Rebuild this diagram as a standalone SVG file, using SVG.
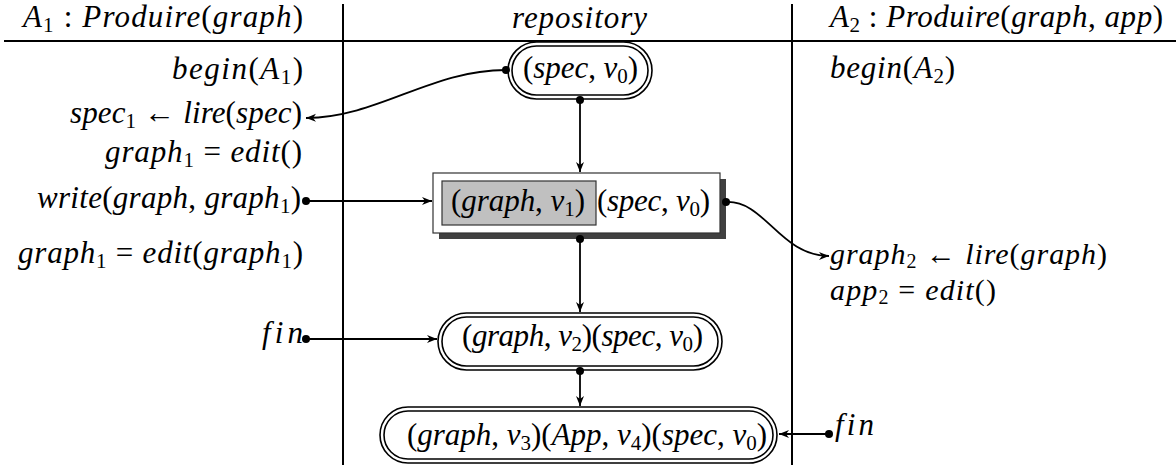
<svg xmlns="http://www.w3.org/2000/svg" width="1176" height="465" viewBox="0 0 1176 465">
<defs>
<style>
text{font-style:italic;font-size:31px;fill:#000}
.sm{font-size:30px}
.u{font-style:normal}
.s{font-size:21px;font-style:normal}
.sm .s{font-size:20px}
.ln{stroke:#000;stroke-width:2;fill:none}
.c{stroke:#000;stroke-width:1.8;fill:none}
.st{fill:#fff;stroke:#000;stroke-width:1.6}
</style>
<marker id="ah" markerUnits="userSpaceOnUse" markerWidth="12" markerHeight="10" refX="10" refY="4" orient="auto" viewBox="0 0 12 10">
<path d="M0,0 L10,4 L0,8 L3,4 Z" fill="#000"/>
</marker>
</defs>
<rect width="1176" height="465" fill="#fff"/>
<g id="grid">
<line class="ln" x1="4" y1="41" x2="1176" y2="41"/>
<line class="ln" x1="343" y1="4" x2="343" y2="465"/>
<line class="ln" x1="792" y1="4" x2="792" y2="465"/>
</g>
<g font-family="'Liberation Serif', 'Times New Roman', 'DejaVu Serif', serif">
<g id="headers">
<text x="23" y="27" textLength="280" lengthAdjust="spacing">A<tspan class="s" dy="5">1</tspan><tspan class="u" dy="-5"> : </tspan>Produire<tspan class="u">(</tspan>graph<tspan class="u">)</tspan></text>
<text x="512" y="28" textLength="135" lengthAdjust="spacing">repository</text>
<text x="830" y="27" textLength="333" lengthAdjust="spacing">A<tspan class="s" dy="5">2</tspan><tspan class="u" dy="-5"> : </tspan>Produire<tspan class="u">(</tspan>graph<tspan class="u">, </tspan>app<tspan class="u">)</tspan></text>
</g>
<g id="A1">
<text x="172" y="79" textLength="131" lengthAdjust="spacing">begin<tspan class="u">(</tspan>A<tspan class="s" dy="5">1</tspan><tspan class="u" dy="-5">)</tspan></text>
<text x="70" y="123" textLength="232" lengthAdjust="spacing">spec<tspan class="s" dy="5">1</tspan><tspan class="u" dy="-5"> ← </tspan>lire<tspan class="u">(</tspan>spec<tspan class="u">)</tspan></text>
<text x="105" y="162" textLength="197" lengthAdjust="spacing">graph<tspan class="s" dy="5">1</tspan><tspan class="u" dy="-5"> = </tspan>edit<tspan class="u">()</tspan></text>
<text x="37" y="208" textLength="264" lengthAdjust="spacing">write<tspan class="u">(</tspan>graph<tspan class="u">, </tspan>graph<tspan class="s" dy="5">1</tspan><tspan class="u" dy="-5">)</tspan></text>
<text x="18" y="263" textLength="285" lengthAdjust="spacing">graph<tspan class="s" dy="5">1</tspan><tspan class="u" dy="-5"> = </tspan>edit<tspan class="u">(</tspan>graph<tspan class="s" dy="5">1</tspan><tspan class="u" dy="-5">)</tspan></text>
<text x="262" y="343" textLength="41" lengthAdjust="spacing">fin</text>
</g>
<g id="A2">
<text x="830" y="78" textLength="125" lengthAdjust="spacing">begin<tspan class="u">(</tspan>A<tspan class="s" dy="5">2</tspan><tspan class="u" dy="-5">)</tspan></text>
<text class="sm" x="830" y="264" textLength="277" lengthAdjust="spacing">graph<tspan class="s" dy="4">2</tspan><tspan class="u" dy="-4"> ← </tspan>lire<tspan class="u">(</tspan>graph<tspan class="u">)</tspan></text>
<text class="sm" x="830" y="300" textLength="166" lengthAdjust="spacing">app<tspan class="s" dy="4">2</tspan><tspan class="u" dy="-4"> = </tspan>edit<tspan class="u">()</tspan></text>
<text x="835" y="435" textLength="39" lengthAdjust="spacing">fin</text>
</g>
<g id="node1">
<rect class="st" x="508" y="42" width="144" height="57" rx="28.5"/>
<rect class="st" x="512" y="46" width="136" height="49" rx="24.5"/>
<text x="523" y="78" textLength="115" lengthAdjust="spacing"><tspan class="u">(</tspan>spec<tspan class="u">, </tspan>v<tspan class="s" dy="5">0</tspan><tspan class="u" dy="-5">)</tspan></text>
</g>
<g id="node2">
<rect x="439" y="179" width="287" height="60" fill="#404040"/>
<rect x="433" y="173" width="287" height="60" fill="#fff" stroke="#333" stroke-width="1.2"/>
<rect x="442" y="181" width="154" height="44" fill="#c0c0c0" stroke="#333" stroke-width="1.2"/>
<text x="451" y="211" textLength="134" lengthAdjust="spacing"><tspan class="u">(</tspan>graph<tspan class="u">, </tspan>v<tspan class="s" dy="5">1</tspan><tspan class="u" dy="-5">)</tspan></text>
<text x="597" y="211" textLength="113" lengthAdjust="spacing"><tspan class="u">(</tspan>spec<tspan class="u">, </tspan>v<tspan class="s" dy="5">0</tspan><tspan class="u" dy="-5">)</tspan></text>
</g>
<g id="node3">
<rect class="st" x="438" y="313" width="284" height="57" rx="28.5"/>
<rect class="st" x="442" y="317" width="276" height="49" rx="24.5"/>
<text x="462" y="346" textLength="241" lengthAdjust="spacing"><tspan class="u">(</tspan>graph<tspan class="u">, </tspan>v<tspan class="s" dy="5">2</tspan><tspan class="u" dy="-5">)(</tspan>spec<tspan class="u">, </tspan>v<tspan class="s" dy="5">0</tspan><tspan class="u" dy="-5">)</tspan></text>
</g>
<g id="node4">
<rect class="st" x="380" y="407" width="397" height="56" rx="28"/>
<rect class="st" x="384" y="411" width="389" height="48" rx="24"/>
<text x="407" y="445" textLength="360" lengthAdjust="spacing"><tspan class="u">(</tspan>graph<tspan class="u">, </tspan>v<tspan class="s" dy="5">3</tspan><tspan class="u" dy="-5">)(</tspan>App<tspan class="u">, </tspan>v<tspan class="s" dy="5">4</tspan><tspan class="u" dy="-5">)(</tspan>spec<tspan class="u">, </tspan>v<tspan class="s" dy="5">0</tspan><tspan class="u" dy="-5">)</tspan></text>
</g>
</g>
<g id="connectors">
<path class="c" d="M506,70 C430,70 380,117 306,118" marker-end="url(#ah)"/>
<circle cx="506" cy="70" r="4"/>
<path class="c" d="M580,100 L580,172" marker-end="url(#ah)"/>
<circle cx="580" cy="100" r="4"/>
<path class="c" d="M306,201 L432,201" marker-end="url(#ah)"/>
<circle cx="306" cy="201" r="4"/>
<path class="c" d="M726,202 C765,200 780,256 829,256" marker-end="url(#ah)"/>
<circle cx="726" cy="202" r="4"/>
<path class="c" d="M580,239 L580,312" marker-end="url(#ah)"/>
<circle cx="580" cy="239" r="4"/>
<path class="c" d="M306,339 L437,339" marker-end="url(#ah)"/>
<circle cx="306" cy="339" r="4"/>
<path class="c" d="M580,371 L580,406" marker-end="url(#ah)"/>
<circle cx="580" cy="371" r="4"/>
<path class="c" d="M829,434 L779,434" marker-end="url(#ah)"/>
<circle cx="829" cy="434" r="4"/>
</g>
</svg>
